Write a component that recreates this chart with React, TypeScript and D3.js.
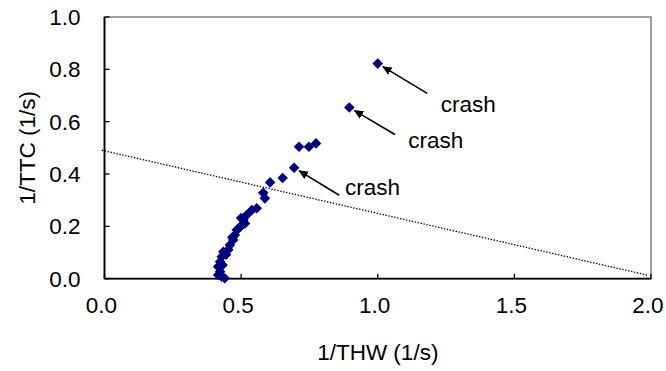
import React from "react";
import * as d3 from "d3";

// 1/THW (x) and 1/TTC (y) observations
const thw: number[] = [
  0.587, 0.557, 0.539, 0.520, 0.508, 0.514, 0.496, 0.484, 0.477, 0.471,
  0.459, 0.453, 0.435, 0.429, 0.423, 0.416, 0.423, 0.429, 0.416, 0.500,
  0.490, 0.468, 0.445, 0.432, 0.440, 0.712, 0.748, 0.774, 0.694, 0.652,
  0.606, 0.581, 0.896, 1.000,
];
const ttc: number[] = [
  0.307, 0.269, 0.262, 0.243, 0.224, 0.211, 0.198, 0.186, 0.167, 0.148,
  0.129, 0.111, 0.103, 0.084, 0.065, 0.046, 0.027, 0.008, 0.014, 0.232,
  0.192, 0.158, 0.092, 0.052, 0.002, 0.504, 0.504, 0.517, 0.424, 0.385,
  0.368, 0.328, 0.654, 0.822,
];

// Dotted boundary line endpoints
const lineX: number[] = [-0.01, 1.985];
const lineY: number[] = [0.491, 0.014];

// Crash annotations: target point, arrow tail, label anchor
const crashLabels: string[] = ["crash", "crash", "crash"];
const crashPtX: number[] = [1.0, 0.896, 0.694];
const crashPtY: number[] = [0.822, 0.654, 0.424];
const crashTailX: number[] = [1.181, 1.063, 0.859];
const crashTailY: number[] = [0.708, 0.551, 0.319];
const crashTextX: number[] = [1.231, 1.112, 0.88];
const crashTextY: number[] = [0.637, 0.498, 0.319];

const xTicks: number[] = [0, 0.5, 1.0, 1.5, 2.0];
const yTicks: number[] = [0, 0.2, 0.4, 0.6, 0.8, 1.0];
const xTitle = "1/THW (1/s)";
const yTitle = "1/TTC (1/s)";

export default function App() {
  const W = 666, H = 371;
  const L = 104.5, R = 651, T = 17, B = 278.7;
  const x = d3.scaleLinear().domain([0, 2]).range([L, R]);
  const y = d3.scaleLinear().domain([0, 1]).range([B, T]);
  const font = "'Liberation Sans', Arial, sans-serif";
  const fs = 22.5;
  const m = 5.3;
  const diamond = `M0,${-m}L${m},0L0,${m}L${-m},0Z`;
  const line = d3.line<number>().x((d, i) => x(lineX[i])).y((d, i) => y(lineY[i]));

  return (
    <svg width={W} height={H} style={{ position: "absolute", left: 0, top: 0 }}>
      <defs>
        <marker id="ah" viewBox="0 0 10 10" refX="9" refY="5" markerWidth="6" markerHeight="6" orient="auto" markerUnits="strokeWidth">
          <path d="M0,0.5 L10,5 L0,9.5 Z" fill="#000" />
        </marker>
      </defs>
      <rect x={0} y={0} width={W} height={H} fill="#fff" />
      {/* plot border */}
      <rect x={L} y={T} width={R - L} height={B - T} fill="none" stroke="#808080" strokeWidth={1.5} />
      {/* dotted line */}
      <path d={line(lineX) as string} fill="none" stroke="#000" strokeWidth={1.3} strokeDasharray="1.4,1.6" />
      {/* axes */}
      <line x1={L} x2={L} y1={T} y2={B} stroke="#000" strokeWidth={1.8} />
      <line x1={L} x2={R} y1={B} y2={B} stroke="#000" strokeWidth={1.8} />
      {xTicks.map((t) => (
        <g key={"x" + t}>
          <line x1={x(t)} x2={x(t)} y1={B} y2={B - 5} stroke="#000" strokeWidth={1.3} />
          <text x={x(t) - 3} y={B + 34} textAnchor="middle" fontFamily={font} fontSize={fs} fill="#000">
            {d3.format(".1f")(t)}
          </text>
        </g>
      ))}
      {yTicks.map((t) => (
        <g key={"y" + t}>
          <line x1={L} x2={L + 5} y1={y(t)} y2={y(t)} stroke="#000" strokeWidth={1.3} />
          <text x={L - 24} y={y(t) + 8} textAnchor="end" fontFamily={font} fontSize={fs} fill="#000">
            {d3.format(".1f")(t)}
          </text>
        </g>
      ))}
      <text x={(L + R) / 2} y={360} textAnchor="middle" fontFamily={font} fontSize={fs} fill="#000">
        {xTitle}
      </text>
      <text transform={`translate(35,${(T + B) / 2}) rotate(-90)`} textAnchor="middle" fontFamily={font} fontSize={fs} fill="#000">
        {yTitle}
      </text>
      {/* points */}
      {thw.map((v, i) => (
        <path key={"p" + i} d={diamond} transform={`translate(${x(v)},${y(ttc[i])})`} fill="#000080" />
      ))}
      {/* annotations */}
      {crashLabels.map((lab, i) => {
        const x1 = x(crashTailX[i]), y1 = y(crashTailY[i]);
        const x2 = x(crashPtX[i]), y2 = y(crashPtY[i]);
        const dx = x2 - x1, dy = y2 - y1;
        const len = Math.hypot(dx, dy);
        const k = (len - 6) / len;
        return (
          <g key={"c" + i}>
            <line x1={x1} y1={y1} x2={x1 + dx * k} y2={y1 + dy * k} stroke="#000" strokeWidth={1.6} markerEnd="url(#ah)" />
            <text x={x(crashTextX[i])} y={y(crashTextY[i])} fontFamily={font} fontSize={fs} fill="#000">
              {lab}
            </text>
          </g>
        );
      })}
    </svg>
  );
}
